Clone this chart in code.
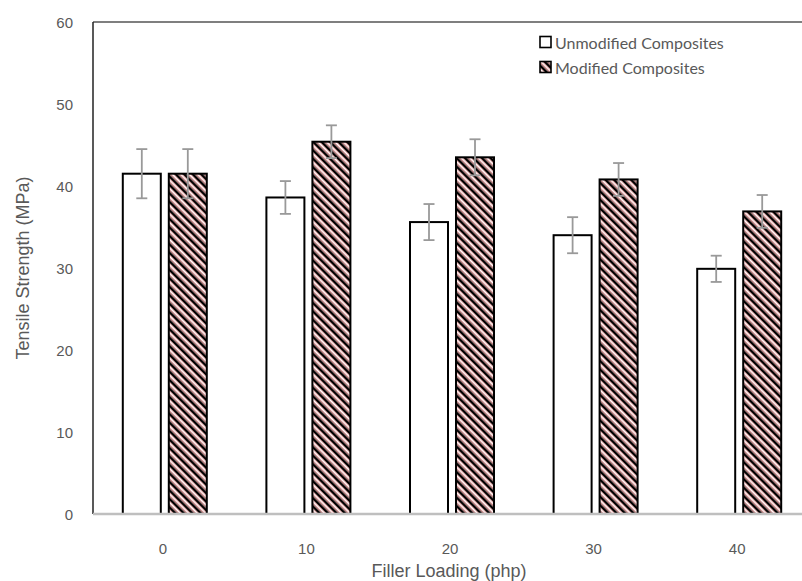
<!DOCTYPE html>
<html>
<head>
<meta charset="utf-8">
<script src="https://cdn.jsdelivr.net/npm/d3@7"></script>
<style>
  body { margin: 0; background: #fff; }
  svg { display: block; }
</style>
</head>
<body>
<div id="chart"></div>
<script>
const loadings = ['0', '10', '20', '30', '40']
const seriesNames = ['Unmodified Composites', 'Modified Composites']
const unmodified = [41.5, 38.6, 35.6, 34.0, 29.9]
const unmodifiedErr = [3.0, 2.0, 2.2, 2.2, 1.6]
const modified = [41.5, 45.4, 43.5, 40.8, 36.9]
const modifiedErr = [3.0, 2.0, 2.2, 2.0, 2.0]
const yTicks = [0, 10, 20, 30, 40, 50, 60]

const width = 802
const height = 581
const margin = { top: 22, left: 93, right: -9, bottom: 67 }

const svg = d3
  .select('#chart')
  .append('svg')
  .attr('width', width)
  .attr('height', height)

// striped fill for the modified bars
const defs = svg.append('defs')
const pat = defs
  .append('pattern')
  .attr('id', 'stripes')
  .attr('patternUnits', 'userSpaceOnUse')
  .attr('width', 6)
  .attr('height', 6)
  .attr('patternTransform', 'rotate(-45)')
pat.append('rect').attr('width', 6).attr('height', 6).attr('fill', '#fff')
pat.append('rect').attr('x', 0).attr('width', 2.6).attr('height', 6).attr('fill', '#000')
pat.append('rect').attr('x', 2.6).attr('width', 1.2).attr('height', 6).attr('fill', '#c97a7a')
pat.append('rect').attr('x', 5).attr('width', 1).attr('height', 6).attr('fill', '#e3a9a9')

const x = d3
  .scaleBand()
  .domain(loadings)
  .range([margin.left, width - margin.right])

const y = d3
  .scaleLinear()
  .domain([0, 60])
  .range([height - margin.bottom, margin.top])

const barW = 38
const offset = 23

// frame (top + left)
svg
  .append('line')
  .attr('x1', margin.left).attr('x2', width)
  .attr('y1', y(60)).attr('y2', y(60))
  .attr('stroke', '#555').attr('stroke-width', 1.5)
svg
  .append('line')
  .attr('x1', margin.left).attr('x2', margin.left)
  .attr('y1', y(60)).attr('y2', y(0))
  .attr('stroke', '#222').attr('stroke-width', 1.5)

const groups = [
  { vals: unmodified, errs: unmodifiedErr, dx: -offset, fill: '#fff' },
  { vals: modified, errs: modifiedErr, dx: offset, fill: 'url(#stripes)' }
]

groups.forEach(function(s) {
  const rows = loadings.map((c, i) => ({ c: c, v: s.vals[i], e: s.errs[i] }))
  const cx = d => x(d.c) + x.bandwidth() / 2 + s.dx

  svg
    .append('g')
    .selectAll('rect')
    .data(rows)
    .enter()
    .append('rect')
    .attr('x', d => cx(d) - barW / 2)
    .attr('y', d => y(d.v))
    .attr('width', barW)
    .attr('height', d => y(0) - y(d.v))
    .attr('fill', s.fill)
    .attr('stroke', '#000')
    .attr('stroke-width', 2)

  const eb = svg.append('g').attr('stroke', '#999').attr('stroke-width', 1.8)
  rows.forEach(function(d) {
    eb.append('line')
      .attr('x1', cx(d)).attr('x2', cx(d))
      .attr('y1', y(d.v + d.e)).attr('y2', y(d.v - d.e))
    ;[d.v + d.e, d.v - d.e].forEach(function(v) {
      eb.append('line')
        .attr('x1', cx(d) - 5.5).attr('x2', cx(d) + 5.5)
        .attr('y1', y(v)).attr('y2', y(v))
    })
  })
})

// x axis line
svg
  .append('line')
  .attr('x1', margin.left).attr('x2', width)
  .attr('y1', y(0)).attr('y2', y(0))
  .attr('stroke', '#bfbfbf').attr('stroke-width', 2.5)

// y tick labels
svg
  .append('g')
  .selectAll('text')
  .data(yTicks)
  .enter()
  .append('text')
  .text(d => d)
  .attr('x', 73)
  .attr('y', d => y(d))
  .attr('text-anchor', 'end')
  .attr('dominant-baseline', 'central')
  .attr('font-family', 'Liberation Sans, Arial, sans-serif')
  .attr('font-size', 15)
  .attr('fill', '#595959')

// x tick labels
svg
  .append('g')
  .selectAll('text')
  .data(loadings)
  .enter()
  .append('text')
  .text(d => d)
  .attr('x', d => x(d) + x.bandwidth() / 2 - 2)
  .attr('y', 548)
  .attr('text-anchor', 'middle')
  .attr('dominant-baseline', 'central')
  .attr('font-family', 'Liberation Sans, Arial, sans-serif')
  .attr('font-size', 15)
  .attr('fill', '#595959')

svg
  .append('text')
  .text('Filler Loading (php)')
  .attr('x', 449)
  .attr('y', 571)
  .attr('text-anchor', 'middle')
  .attr('dominant-baseline', 'central')
  .attr('font-family', 'Liberation Sans, Arial, sans-serif')
  .attr('font-size', 18)
  .attr('fill', '#595959')

svg
  .append('text')
  .text('Tensile Strength (MPa)')
  .attr('transform', 'translate(23,' + 268 + ') rotate(-90)')
  .attr('text-anchor', 'middle')
  .attr('dominant-baseline', 'central')
  .attr('font-family', 'Liberation Sans, Arial, sans-serif')
  .attr('font-size', 18)
  .attr('fill', '#595959')

// legend
const legend = svg.append('g').attr('transform', 'translate(540, 42)')
seriesNames.forEach(function(name, i) {
  const g = legend.append('g').attr('transform', `translate(0,${i * 25})`)
  g.append('rect')
    .attr('x', 0).attr('y', -5.5)
    .attr('width', 11).attr('height', 11)
    .attr('fill', groups[i].fill)
    .attr('stroke', '#000')
    .attr('stroke-width', 1.6)
  g.append('text')
    .text(name)
    .attr('x', 15)
    .attr('y', 0)
    .attr('dominant-baseline', 'central')
    .attr('font-family', 'Lato, Open Sans, sans-serif')
    .attr('font-size', 16)
    .attr('fill', '#595959')
})
</script>
</body>
</html>
